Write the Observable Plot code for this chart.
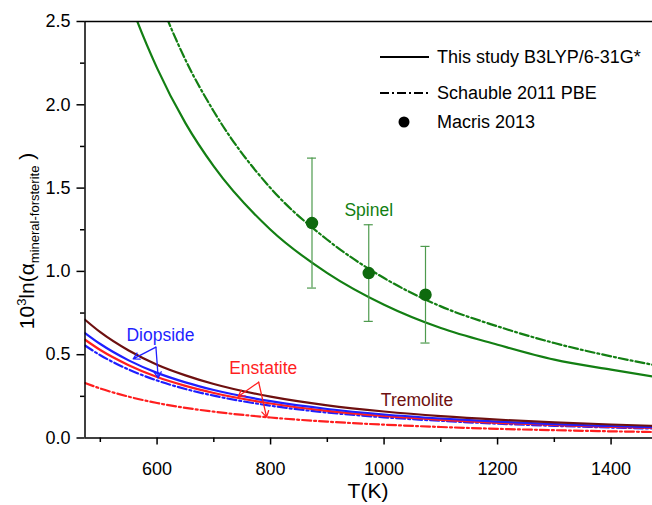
<!DOCTYPE html>
<html>
<head>
<meta charset="utf-8">
<script src="https://cdn.jsdelivr.net/npm/d3@7"></script>
<script src="https://cdn.jsdelivr.net/npm/@observablehq/plot@0.6"></script>
<style>
  html, body { margin: 0; padding: 0; background: #fff; }
  #chart { width: 652px; height: 505px; }
  svg { font-family: "Liberation Sans", Arial, sans-serif; }
</style>
</head>
<body>
<div id="chart"></div>
<script>
// ---- data ----
const T = [473, 500, 550, 600, 650, 700, 800, 900, 1000, 1100, 1200, 1300, 1400, 1473];
const spinelThis      = [3.58, 3.20, 2.64, 2.22, 1.89, 1.63, 1.25, 0.99, 0.80, 0.66, 0.56, 0.47, 0.41, 0.37];
const spinelSchauble  = [4.29, 3.84, 3.17, 2.67, 2.27, 1.96, 1.50, 1.19, 0.96, 0.79, 0.67, 0.57, 0.49, 0.44];
const tremoliteThis   = [0.71, 0.635, 0.525, 0.44, 0.376, 0.324, 0.248, 0.196, 0.159, 0.131, 0.110, 0.094, 0.081, 0.073];
const diopsideThis    = [0.63, 0.564, 0.466, 0.391, 0.334, 0.288, 0.221, 0.174, 0.141, 0.117, 0.098, 0.083, 0.072, 0.065];
const enstatiteThis   = [0.59, 0.528, 0.437, 0.366, 0.313, 0.270, 0.207, 0.163, 0.132, 0.109, 0.091, 0.078, 0.067, 0.061];
const diopsideSchauble  = [0.555, 0.497, 0.411, 0.345, 0.294, 0.254, 0.194, 0.153, 0.124, 0.103, 0.086, 0.073, 0.063, 0.057];
const enstatiteSchauble = [0.33, 0.297, 0.248, 0.21, 0.181, 0.158, 0.123, 0.098, 0.080, 0.066, 0.055, 0.047, 0.040, 0.036];

const macrisT   = [873, 973, 1073];
const macrisVal = [1.29, 0.99, 0.86];
const macrisLo  = [0.90, 0.70, 0.57];
const macrisHi  = [1.68, 1.28, 1.15];

const xMajor = [600, 800, 1000, 1200, 1400];
const xMinor = [500, 700, 900, 1100, 1300];
const yMajor = [0, 0.5, 1.0, 1.5, 2.0, 2.5];
const yMinor = [0.25, 0.75, 1.25, 1.75, 2.25];

const labelNames = ["Spinel", "Diopside", "Enstatite", "Tremolite"];
const labelT     = [973, 606, 787, 1058];
const labelV     = [1.365, 0.615, 0.417, 0.225];

const arrowFromT = [598, 598, 779, 779];
const arrowFromV = [0.545, 0.545, 0.335, 0.335];
const arrowToT   = [558, 602, 743, 793];
const arrowToV   = [0.475, 0.36, 0.249, 0.125];
const arrowGroup = ["Diopside", "Diopside", "Enstatite", "Enstatite"];

const legendLabels = ["This study B3LYP/6-31G*", "Schauble 2011 PBE", "Macris 2013"];

// ---- styles ----
const GREEN = "#137f13", DGREEN = "#0e6a0e", EGREEN = "#4e9a4e";
const BLUE = "#1f1fff", RED = "#ff1f1f", MAROON = "#6e1010";
const DASHDOT = "9,3,2,3";
const colorOf = {Spinel: GREEN, Diopside: BLUE, Enstatite: RED, Tremolite: MAROON};

const toRows = (ys) => T.map((t, i) => ({T: t, v: ys[i]}));
const macris = macrisT.map((t, i) => ({T: t, v: macrisVal[i], lo: macrisLo[i], hi: macrisHi[i]}));
const labels = labelNames.map((n, i) => ({name: n, T: labelT[i], v: labelV[i]}));
const arrows = arrowGroup.map((g, i) => ({g, x1: arrowFromT[i], y1: arrowFromV[i], x2: arrowToT[i], y2: arrowToV[i]}));

const lineOpts = (stroke, dash) => ({x: "T", y: "v", stroke, strokeWidth: 2.2, curve: "monotone-x", clip: true, strokeDasharray: dash});

const plot = Plot.plot({
  width: 652,
  height: 505,
  marginLeft: 84.5,
  marginRight: 0,
  marginTop: 21,
  marginBottom: 67.5,
  style: {fontFamily: "Liberation Sans, Arial, sans-serif", background: "#fff", fontSize: "18px"},
  x: {domain: [473, 1473]},
  y: {domain: [0, 2.5]},
  marks: [
    // curves
    Plot.line(toRows(spinelThis), lineOpts(GREEN)),
    Plot.line(toRows(spinelSchauble), lineOpts(GREEN, DASHDOT)),
    Plot.line(toRows(enstatiteSchauble), lineOpts(RED, DASHDOT)),
    Plot.line(toRows(diopsideSchauble), lineOpts(BLUE, DASHDOT)),
    Plot.line(toRows(enstatiteThis), lineOpts(RED)),
    Plot.line(toRows(diopsideThis), lineOpts(BLUE)),
    Plot.line(toRows(tremoliteThis), lineOpts(MAROON)),
    // Macris error bars and points
    Plot.ruleX(macris, {x: "T", y1: "lo", y2: "hi", stroke: EGREEN, strokeWidth: 1.2}),
    Plot.ruleY(macris, {y: "lo", x1: d => d.T - 8, x2: d => d.T + 8, stroke: EGREEN, strokeWidth: 1.2}),
    Plot.ruleY(macris, {y: "hi", x1: d => d.T - 8, x2: d => d.T + 8, stroke: EGREEN, strokeWidth: 1.2}),
    Plot.dot(macris, {x: "T", y: "v", r: 5.5, fill: DGREEN, stroke: DGREEN}),
    // annotations
    Plot.arrow(arrows, {x1: "x1", y1: "y1", x2: "x2", y2: "y2", stroke: d => colorOf[d.g], strokeWidth: 1.3, headLength: 8, insetEnd: 0}),
    Plot.text(labels, {x: "T", y: "v", text: "name", fill: d => colorOf[d.name], fontSize: 17.5}),
    // frame
    Plot.ruleY([0], {stroke: "#000", strokeWidth: 1.5}),
    Plot.ruleY([2.5], {stroke: "#000", strokeWidth: 1.5}),
    Plot.ruleX([473], {stroke: "#000", strokeWidth: 1.5}),
    // axes
    Plot.axisX(xMajor, {tickSize: 7, tickPadding: 17, fontSize: 18, label: null, strokeWidth: 1.5, tickFormat: d => String(d)}),
    Plot.axisX(xMinor, {tickSize: 4.5, tickFormat: () => "", label: null, strokeWidth: 1.5}),
    Plot.axisY(yMajor, {tickSize: 8, tickPadding: 6.5, fontSize: 18, label: null, strokeWidth: 1.5, tickFormat: d3.format(".1f")}),
    Plot.axisY(yMinor, {tickSize: 4.5, tickFormat: () => "", label: null, strokeWidth: 1.5})
  ]
});

document.getElementById("chart").appendChild(plot);

const svg = d3.select(plot);
svg.style("color", "#000");
svg.selectAll('g[aria-label*="tick label"]').attr("font-size", 18).style("font-size", "18px");
svg.selectAll('g[aria-label*="tick label"] text').attr("font-size", 18).style("font-size", "18px").attr("fill", "#000");

// axis titles
svg.append("text")
  .attr("x", 368).attr("y", 498)
  .attr("text-anchor", "middle")
  .attr("font-size", 21)
  .attr("fill", "#000")
  .text("T(K)");

const yt = svg.append("text")
  .attr("transform", "translate(34,241) rotate(-90)")
  .attr("text-anchor", "middle")
  .attr("font-size", 21)
  .attr("fill", "#000");
yt.append("tspan").text("10");
yt.append("tspan").attr("font-size", 13).attr("dy", -8).text("3");
yt.append("tspan").attr("dy", 8).text("ln(α");
yt.append("tspan").attr("font-size", 13).attr("dy", 5).text("mineral-forsterite");
yt.append("tspan").attr("dy", -5).text(" )");

// legend (inside the plot, top right)
const lg = svg.append("g").attr("text-anchor", "start");
const rowsY = [57, 93, 122];
lg.append("line").attr("x1", 380).attr("x2", 429).attr("y1", rowsY[0]).attr("y2", rowsY[0])
  .attr("stroke", "#000").attr("stroke-width", 2.2);
lg.append("line").attr("x1", 380).attr("x2", 429).attr("y1", rowsY[1]).attr("y2", rowsY[1])
  .attr("stroke", "#000").attr("stroke-width", 2.2).attr("stroke-dasharray", DASHDOT);
lg.append("circle").attr("cx", 404).attr("cy", rowsY[2]).attr("r", 5.5).attr("fill", "#000");
legendLabels.forEach((t, i) => {
  lg.append("text").attr("x", 437).attr("y", rowsY[i]).attr("dy", "0.36em")
    .attr("text-anchor", "start")
    .attr("font-size", 18).attr("fill", "#000").text(t);
});
</script>
</body>
</html>
